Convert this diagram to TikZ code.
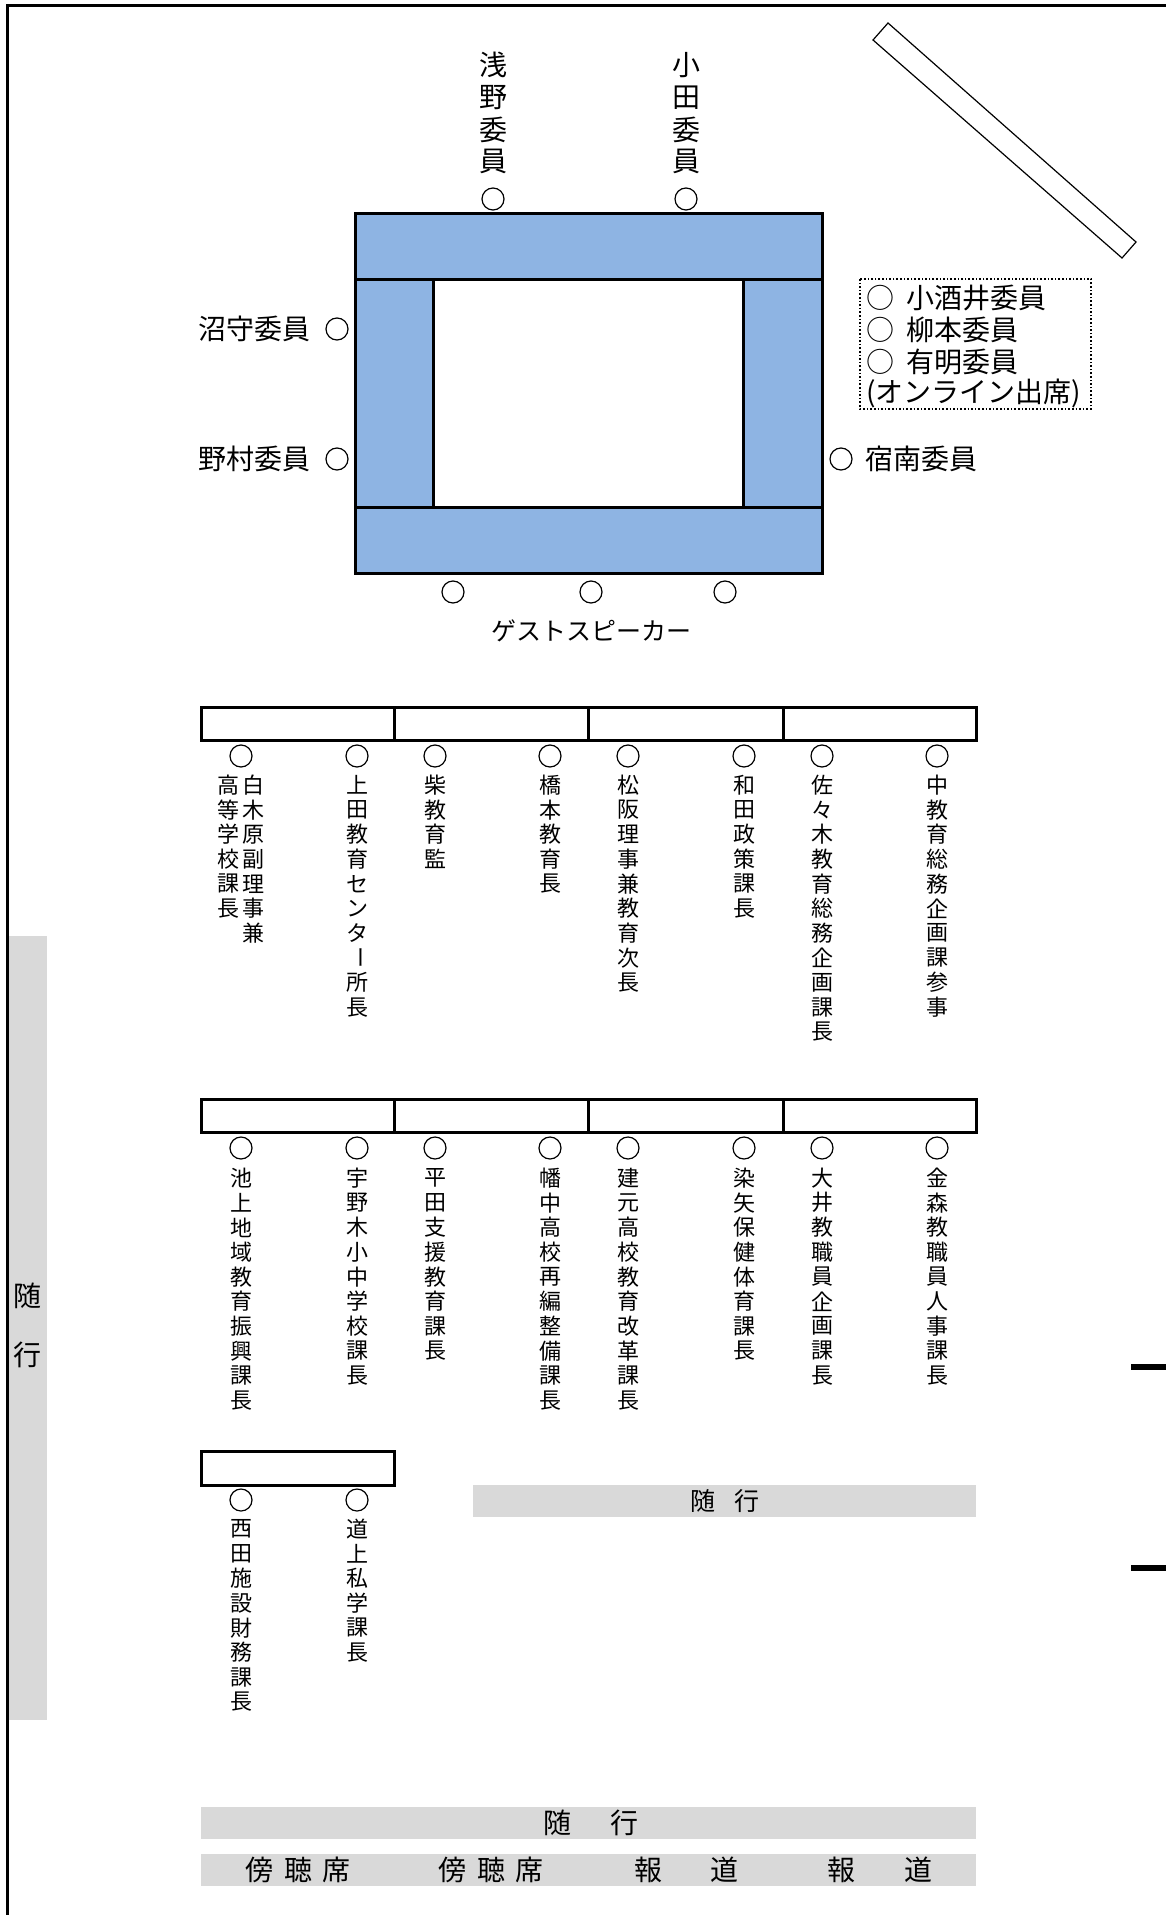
\documentclass[tikz,border=0pt]{standalone}
\usepackage{fontspec}
\usepackage{graphicx}
\setmainfont{Noto Sans CJK JP}
\definecolor{tblue}{HTML}{8EB4E3}
\definecolor{bargray}{HTML}{D9D9D9}
\newcommand\tatebar{\rotatebox[origin=c]{-90}{ー}}
% name, x, y of first char, pitch, list, style
\newcommand\tatetext[6]{%
  \foreach \ch [count=\i] in {#5} {\node[#6] (#1-\i) at (#2,{#3+(\i-1)*#4}) {\ch};}%
}
\tikzset{
  seat/.style={circle, draw, line width=0.6pt, minimum size=11pt, inner sep=0pt},
  tline/.style={line width=1.5pt},
  bigch/.style={font=\fontsize{14pt}{16pt}\selectfont, inner sep=0pt},
  midch/.style={font=\fontsize{12.5pt}{14pt}\selectfont, inner sep=0pt},
  smallch/.style={font=\fontsize{11pt}{12pt}\selectfont, inner sep=0pt},
  graybar/.style={fill=bargray},
}
\begin{document}
\begin{tikzpicture}[x=0.5pt,y=-0.5pt]
\useasboundingbox (0,0) rectangle (1166,1915);
\fill[white] (0,0) rectangle (1166,1915);
% frame (top and left)
\draw[line width=1.5pt] (7.3,1915) -- (7.3,5.3) -- (1166,5.3);
% right marks
\draw[line width=3pt] (1131,1367) -- (1166,1367);
\draw[line width=3pt] (1131,1568) -- (1166,1568);
% diagonal box
\draw[line width=0.6pt] (888,23) -- (873,40) -- (1122,258) -- (1136,242) -- cycle;

% top members
\tatetext{asano}{493}{65}{32.3}{浅,野,委,員}{bigch}
\node[seat] (sAsano) at (493,199) {};
\tatetext{oda}{686}{65}{32.3}{小,田,委,員}{bigch}
\node[seat] (sOda) at (686,199) {};

% conference table
\fill[tblue] (355,214) rectangle (822,573);
\fill[white] (433,280) rectangle (743,507);
\draw[tline] (355,214) rectangle (822,573);
\draw[tline] (355,280) -- (822,280);
\draw[tline] (355,507) -- (822,507);
\draw[tline] (433,280) -- (433,507);
\draw[tline] (743,280) -- (743,507);

% side members
\node[seat] (sNumamori) at (337,329) {};
\node[bigch, anchor=east] (tNumamori) at (311,329) {沼守委員};
\node[seat] (sNomura) at (337,459) {};
\node[bigch, anchor=east] (tNomura) at (311,459) {野村委員};
\node[seat] (sShukunami) at (841,459) {};
\node[bigch, anchor=west] (tShukunami) at (865,459) {宿南委員};

% online box
\draw[densely dotted, line width=0.8pt] (860,279) rectangle (1091,409);
\node[bigch, anchor=west] (on1) at (866,298) {○\hspace{6pt}小酒井委員};
\node[bigch, anchor=west] (on2) at (866,330) {○\hspace{6pt}柳本委員};
\node[bigch, anchor=west] (on3) at (866,362) {○\hspace{6pt}有明委員};
\node[bigch, anchor=west] (on4) at (866,393) {(オンライン出席)};

% guest speakers
\node[seat] (g1) at (453,592) {};
\node[seat] (g2) at (591,592) {};
\node[seat] (g3) at (725,592) {};
\node[midch] (guest) at (591,631) {ゲストスピーカー};

% row 1
\draw[tline] (201,707) rectangle (976,740);
\draw[tline] (394,707) -- (394,740);
\draw[tline] (588,707) -- (588,740);
\draw[tline] (783,707) -- (783,740);
\foreach \x [count=\k] in {241,357,435,550,628,744,822,937} {\node[seat] (r1s\k) at (\x,756) {};}
\tatetext{r1c1a}{253}{785}{24.7}{白,木,原,副,理,事,兼}{smallch}
\tatetext{r1c1b}{228}{785}{24.7}{高,等,学,校,課,長}{smallch}
\tatetext{r1c2}{357}{785}{24.7}{上,田,教,育,セ,ン,タ,\tatebar,所,長}{smallch}
\tatetext{r1c3}{435}{785}{24.7}{柴,教,育,監}{smallch}
\tatetext{r1c4}{550}{785}{24.7}{橋,本,教,育,長}{smallch}
\tatetext{r1c5}{628}{785}{24.7}{松,阪,理,事,兼,教,育,次,長}{smallch}
\tatetext{r1c6}{744}{785}{24.7}{和,田,政,策,課,長}{smallch}
\tatetext{r1c7}{822}{785}{24.7}{佐,々,木,教,育,総,務,企,画,課,長}{smallch}
\tatetext{r1c8}{937}{785}{24.7}{中,教,育,総,務,企,画,課,参,事}{smallch}

% row 2
\draw[tline] (201,1099) rectangle (976,1132);
\draw[tline] (394,1099) -- (394,1132);
\draw[tline] (588,1099) -- (588,1132);
\draw[tline] (783,1099) -- (783,1132);
\foreach \x [count=\k] in {241,357,435,550,628,744,822,937} {\node[seat] (r2s\k) at (\x,1148) {};}
\tatetext{r2c1}{241}{1178}{24.7}{池,上,地,域,教,育,振,興,課,長}{smallch}
\tatetext{r2c2}{357}{1178}{24.7}{宇,野,木,小,中,学,校,課,長}{smallch}
\tatetext{r2c3}{435}{1178}{24.7}{平,田,支,援,教,育,課,長}{smallch}
\tatetext{r2c4}{550}{1178}{24.7}{幡,中,高,校,再,編,整,備,課,長}{smallch}
\tatetext{r2c5}{628}{1178}{24.7}{建,元,高,校,教,育,改,革,課,長}{smallch}
\tatetext{r2c6}{744}{1178}{24.7}{染,矢,保,健,体,育,課,長}{smallch}
\tatetext{r2c7}{822}{1178}{24.7}{大,井,教,職,員,企,画,課,長}{smallch}
\tatetext{r2c8}{937}{1178}{24.7}{金,森,教,職,員,人,事,課,長}{smallch}

% row 3
\draw[tline] (201,1451) rectangle (394,1485);
\node[seat] (r3s1) at (241,1500) {};
\node[seat] (r3s2) at (357,1500) {};
\tatetext{r3c1}{241}{1529}{24.7}{西,田,施,設,財,務,課,長}{smallch}
\tatetext{r3c2}{357}{1529}{24.7}{道,上,私,学,課,長}{smallch}

% attendants bars
\fill[graybar] (473,1485) rectangle (976,1517);
\node[midch] (zuiko1) at (725,1501) {随\hspace{9.5pt}行};
\fill[graybar] (9,936) rectangle (47,1720);
\node[bigch] (zuikoL1) at (27,1296) {随};
\node[bigch] (zuikoL2) at (27,1355) {行};
\fill[graybar] (201,1807) rectangle (976,1839);
\node[bigch] (zuiko2) at (591,1823) {随\hspace{20pt}行};
\fill[graybar] (201,1854) rectangle (976,1886);
\node[bigch] (bou1) at (298,1870) {傍\hspace{5.25pt}聴\hspace{5.25pt}席};
\node[bigch] (bou2) at (491,1870) {傍\hspace{5.25pt}聴\hspace{5.25pt}席};
\node[bigch] (hou1) at (686,1870) {報\hspace{24pt}道};
\node[bigch] (hou2) at (879.5,1870) {報\hspace{24.5pt}道};
\end{tikzpicture}
\end{document}
